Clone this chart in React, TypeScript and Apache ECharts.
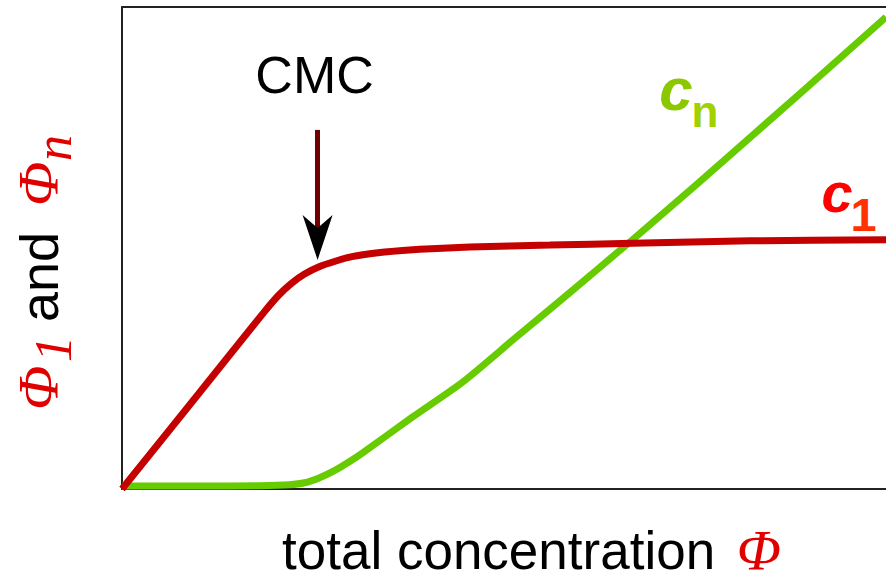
import React, { useEffect, useRef } from 'react';
import * as echarts from 'echarts';

// Monomer concentration c1 (red) vs total concentration
const c1Curve: [number, number][] = [
  [0, 0], [10, 19.7], [18.6, 36.7], [20.5, 40.2], [22.2, 42.7], [23.9, 44.6], [25.8, 46.1],
  [28, 47.3], [30.1, 48.2], [33.5, 49.0], [36.7, 49.5], [45.5, 50.2], [56, 50.6], [66.8, 51.0], [82.2, 51.5], [100, 51.7],
];
// Micelle concentration cn (green) vs total concentration
const cnCurve: [number, number][] = [
  [0, 0.6], [10.1, 0.6], [18, 0.7], [21.9, 0.9], [23.9, 1.3], [25.8, 2.3], [27.8, 3.8],
  [29.8, 5.7], [31.5, 7.5], [38, 14.9], [44.6, 22.2], [51.6, 31.5], [58.2, 40.2], [66.8, 51.7],
  [75.6, 63.7], [88.7, 82], [100, 97.9],
];
// CMC annotation (data units)
const cmcLabel = { text: 'CMC', x: 25.2, y: 85.9 };
const cmcArrow = { x: 25.6, yStart: 74.5, yEnd: 54.1, headY: 52.2 };
// Curve labels
const cnLabel = { main: 'c', sub: 'n', mainAt: [72.5, 82.8], subAt: [76.3, 78.4] };
const c1Label = { main: 'c', sub: '1', mainAt: [93.6, 61.6], subAt: [97.05, 56.95] };
// Axis titles
const xTitle = 'total concentration';
const xSymbol = 'Φ';
const yTitleParts = [
  { text: 'Φ', kind: 'phi' },
  { text: '1', kind: 'sub' },
  { text: 'and', kind: 'word' },
  { text: 'Φ', kind: 'phi' },
  { text: 'n', kind: 'sub' },
];

const sans = 'Liberation Sans, Arial, sans-serif';
const serif = 'Liberation Serif, Times New Roman, serif';

export default function App() {
  const ref = useRef<HTMLDivElement>(null);
  useEffect(() => {
    const chart = echarts.init(ref.current!, null, { renderer: 'svg' });
    const axisLine = { show: true, onZero: false, lineStyle: { color: '#222', width: 2 } };

    // y-axis title: rotated group, local x runs along the axis (upwards), local y=0 is the baseline
    const partOffsets = [-2, 46, 86, 202, 247];
    const fontFor = (kind: string) =>
      kind === 'phi' ? { size: 58, font: `italic 58px ${serif}`, fill: '#e00000', base: 0, central: 0.3375 }
        : kind === 'sub' ? { size: 52, font: `italic 52px ${serif}`, fill: '#e00000', base: 13, central: 0.3375 }
          : { size: 54, font: `54px ${sans}`, fill: '#000', base: 0, central: 0.3465 };
    const yTitle = {
      type: 'group', rotation: Math.PI / 2, x: 58, y: 408, silent: true,
      children: yTitleParts.map((p, i) => {
        const f = fontFor(p.kind);
        return {
          type: 'text',
          style: {
            text: p.text, x: partOffsets[i], y: f.base - f.central * f.size,
            font: f.font, fill: f.fill, textAlign: 'left', textVerticalAlign: 'middle',
          },
        };
      }),
    };

    const option: any = {
      animation: false,
      backgroundColor: '#fff',
      grid: { left: 122, right: 0, top: 7, bottom: 86, containLabel: false, outerBoundsMode: 'none' },
      graphic: [yTitle],
      xAxis: [
        {
          type: 'value', min: 0, max: 100, position: 'bottom',
          axisLine, axisTick: { show: false }, axisLabel: { show: false }, splitLine: { show: false },
          name: `${xTitle} {phi|${xSymbol}}`,
          nameLocation: 'middle', nameGap: 33,
          nameTextStyle: {
            fontFamily: sans, fontSize: 53, color: '#000', lineHeight: 56, padding: [0, 0, 0, 55],
            rich: { phi: { fontFamily: serif, fontStyle: 'italic', fontSize: 58, color: '#e00000', lineHeight: 56, padding: [0, 0, 0, 7] } },
          },
        },
        {
          type: 'value', min: 0, max: 100, position: 'top',
          axisLine, axisTick: { show: false }, axisLabel: { show: false }, splitLine: { show: false },
        },
      ],
      yAxis: {
        type: 'value', min: 0, max: 100,
        axisLine, axisTick: { show: false }, axisLabel: { show: false }, splitLine: { show: false },
      },
      series: [
        {
          type: 'line', name: 'cn', data: cnCurve, showSymbol: false, smooth: 0.25,
          lineStyle: { color: '#66cc00', width: 7 }, z: 2,
          markPoint: {
            silent: true, symbol: 'circle', symbolSize: 0,
            data: [
              { coord: cnLabel.mainAt, label: { show: true, position: 'inside', formatter: cnLabel.main, fontFamily: sans, fontSize: 60, fontWeight: 'bold', fontStyle: 'italic', color: '#8cc800' } },
              { coord: cnLabel.subAt, label: { show: true, position: 'inside', formatter: cnLabel.sub, fontFamily: sans, fontSize: 44, fontWeight: 'bold', color: '#a2d000' } },
            ],
          },
        },
        {
          type: 'line', name: 'c1', data: c1Curve, showSymbol: false, smooth: 0.25,
          lineStyle: { color: '#c40000', width: 7 }, z: 3,
          markLine: {
            silent: true, symbol: ['none', 'none'],
            lineStyle: { color: '#6e0000', width: 5, type: 'solid' },
            label: { show: false },
            data: [[{ coord: [cmcArrow.x, cmcArrow.yStart] }, { coord: [cmcArrow.x, cmcArrow.yEnd] }]],
          },
          markPoint: {
            silent: true,
            data: [
              { coord: [cmcArrow.x, cmcArrow.headY], symbol: 'path://M0,0 L15,13 L30,0 L15,45 Z', symbolSize: [30, 45], itemStyle: { color: '#000' }, label: { show: false } },
              { coord: [cmcLabel.x, cmcLabel.y], symbol: 'circle', symbolSize: 0, label: { show: true, position: 'inside', formatter: cmcLabel.text, fontFamily: sans, fontSize: 52, color: '#000' } },
              { coord: c1Label.mainAt, symbol: 'circle', symbolSize: 0, label: { show: true, position: 'inside', formatter: c1Label.main, fontFamily: sans, fontSize: 56, fontWeight: 'bold', fontStyle: 'italic', color: '#ff0000' } },
              { coord: c1Label.subAt, symbol: 'circle', symbolSize: 0, label: { show: true, position: 'inside', formatter: c1Label.sub, fontFamily: sans, fontSize: 47, fontWeight: 'bold', color: '#ff3300' } },
            ],
          },
        },
      ],
    };
    chart.setOption(option);
    return () => chart.dispose();
  }, []);
  return <div ref={ref} style={{ position: 'absolute', left: 0, top: 0, width: 886, height: 575, background: '#fff' }} />;
}
